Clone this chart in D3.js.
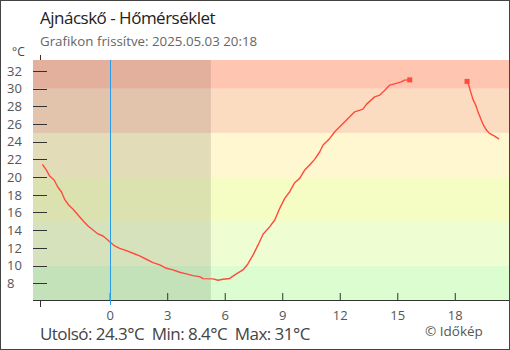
<!DOCTYPE html>
<html><head><meta charset="utf-8">
<script src="https://cdn.jsdelivr.net/npm/d3@7"></script>
<style>
html,body{margin:0;padding:0;background:#fff;}
svg{display:block;font-family:"Open Sans",sans-serif;}
</style></head>
<body>
<svg id="c" width="510" height="350"></svg>
<script>
// ---- data ----
const title = "Ajnácskő - Hőmérséklet";
const subtitle = "Grafikon frissítve: 2025.05.03 20:18";
const footer = "Utolsó: 24.3°C  Min: 8.4°C  Max: 31°C";
const credit = "© Időkép";
const unit = "°C";
const xDomain = [-4, 21];
const yDomain = [6.1, 33.25];
const xTickValues = [0, 3, 6, 9, 12, 15, 18];
const yTickValues = [8, 10, 12, 14, 16, 18, 20, 22, 24, 26, 28, 30, 32];
const bandLimits = [6.1, 10, 15, 20, 25, 30, 33.25];
const bandColors = ["#dcfdcf", "#effdd3", "#f5fdc5", "#fef7cf", "#fcdcc0", "#fec5b0"];
const nightSpan = [-4, 5.28];
const nowHour = 0;
const hours = [-3.51,-3.30,-3.13,-2.90,-2.70,-2.52,-2.35,-2.14,-1.91,-1.65,-1.39,-1.13,-0.87,-0.61,-0.35,-0.14,0,0.26,0.52,0.87,1.22,1.56,1.91,2.26,2.61,2.96,3.30,3.65,4.00,4.34,4.69,4.87,5.39,5.65,5.91,6.26,6.61,6.95,7.20,7.48,7.74,8.00,8.35,8.61,8.87,9.13,9.39,9.65,9.91,10.17,10.43,10.69,10.96,11.13,11.48,11.74,12.00,12.26,12.52,12.78,13.21,13.39,13.82,14.08,14.35,14.61,14.95,15.21,15.38,15.65,null,18.64,18.73,18.83,18.95,19.09,19.21,19.35,19.47,19.65,19.81,20.08,20.31];
const temps = [21.45,20.80,20.12,19.67,18.85,18.35,17.49,16.85,16.36,15.72,15.07,14.47,14.02,13.57,13.34,12.97,12.70,12.21,11.95,11.68,11.39,11.08,10.71,10.33,10.07,9.69,9.50,9.24,9.05,8.86,8.75,8.52,8.49,8.34,8.45,8.54,9.05,9.50,10.15,11.20,12.33,13.54,14.40,15.15,16.47,17.60,18.35,19.37,19.86,20.80,21.37,22.01,22.87,23.63,24.38,25.13,25.69,26.26,26.82,27.39,27.69,28.23,29.08,29.27,29.84,30.41,30.60,30.78,30.97,31.0,null,30.83,30.4,29.65,28.79,28.15,27.39,26.64,26.0,25.32,24.95,24.64,24.3];

// ---- layout ----
const W = 510, H = 350;
const plotL = 33, plotR = 509, plotT = 60, plotB = 300;
const axisX = 40;
const svg = d3.select("#c");

const x = d3.scaleLinear().domain(xDomain).range([33, 512.3]);
const y = d3.scaleLinear().domain(yDomain).range([plotB, plotT]);

svg.append("defs").append("clipPath").attr("id", "clip")
  .append("rect").attr("x", plotL).attr("y", plotT).attr("width", plotR - plotL).attr("height", plotB - plotT);

const plot = svg.append("g").attr("clip-path", "url(#clip)");

// bands
plot.selectAll("rect.band").data(bandColors).join("rect")
  .attr("class", "band")
  .attr("x", plotL).attr("width", plotR - plotL)
  .attr("y", (d, i) => y(bandLimits[i + 1]))
  .attr("height", (d, i) => y(bandLimits[i]) - y(bandLimits[i + 1]))
  .attr("fill", d => d);

// night overlay
plot.append("rect")
  .attr("x", x(nightSpan[0])).attr("width", x(nightSpan[1]) - x(nightSpan[0]))
  .attr("y", plotT).attr("height", plotB - plotT)
  .attr("fill", "rgba(0,0,0,0.105)");

// data line
const pts = hours.map((h, i) => ({h, v: temps[i]}));
const line = d3.line().defined(d => d.v != null && d.h != null)
  .x(d => x(d.h)).y(d => y(d.v));
plot.append("path").datum(pts)
  .attr("d", line).attr("fill", "none")
  .attr("stroke", "#ff4a3d").attr("stroke-width", 1.4).attr("stroke-linejoin", "round");

// markers at segment ends bordering gap
const marks = pts.filter((d, i) => d.v != null && ((i > 0 && pts[i - 1].v == null) || (i < pts.length - 1 && pts[i + 1].v == null)));
plot.selectAll("rect.mk").data(marks).join("rect")
  .attr("class", "mk")
  .attr("x", d => x(d.h) - 2.5).attr("y", d => y(d.v) - 2.5)
  .attr("width", 5).attr("height", 5).attr("fill", "#ff4a3d");

// x axis
const xAxis = d3.axisBottom(x).tickValues(xTickValues).tickSizeInner(-7).tickSizeOuter(0).tickPadding(11);
const gx = svg.append("g").attr("transform", `translate(0,${plotB})`).call(xAxis);
gx.select(".domain").remove();
gx.selectAll(".tick line").attr("stroke", "#333");
gx.selectAll(".tick text").attr("fill", "#555").style("font-size", "13px").style("font-family", "Open Sans");
svg.append("line").attr("x1", plotL).attr("x2", plotR).attr("y1", plotB + 0.5).attr("y2", plotB + 0.5).attr("stroke", "#333");
svg.append("line").attr("x1", axisX + 0.5).attr("x2", axisX + 0.5).attr("y1", plotB).attr("y2", plotB + 7).attr("stroke", "#333");
svg.append("line").attr("x1", axisX + 0.5).attr("x2", axisX + 0.5).attr("y1", plotT - 5).attr("y2", plotT).attr("stroke", "#333");

// now line (extends slightly below axis)
svg.append("line")
  .attr("x1", Math.round(x(nowHour)) + 0.5).attr("x2", Math.round(x(nowHour)) + 0.5)
  .attr("y1", plotT).attr("y2", plotB + 5)
  .attr("stroke", "#2a9be6").attr("stroke-width", 1);

// y axis
const gy = svg.append("g");
gy.selectAll("line").data(yTickValues).join("line")
  .attr("x1", axisX - 7).attr("x2", axisX + 7)
  .attr("y1", d => Math.round(y(d)) + 0.5).attr("y2", d => Math.round(y(d)) + 0.5)
  .attr("stroke", "#333");
gy.selectAll("text").data(yTickValues).join("text")
  .attr("x", 7).attr("y", d => y(d) + 4.7)
  .attr("fill", "#555").style("font-size", "13px")
  .text(d => d);

svg.append("text").attr("x", 12).attr("y", 56).attr("fill", "#444").style("font-size", "12px").text(unit);

// titles
svg.append("text").attr("x", 40).attr("y", 24).attr("fill", "#222").style("font-size", "17px")
  .style("letter-spacing", "-0.5px").text(title);
svg.append("text").attr("x", 40).attr("y", 45.5).attr("fill", "#666").style("font-size", "13.3px").text(subtitle);
svg.append("text").attr("x", 40).attr("y", 340).attr("fill", "#444").style("font-size", "17px")
  .style("letter-spacing", "-0.55px")
  .style("white-space", "pre").attr("xml:space", "preserve").text(footer);
svg.append("text").attr("x", 425).attr("y", 336).attr("fill", "#555").style("font-size", "13.5px").text(credit);

// frame
svg.append("rect").attr("x", 0.5).attr("y", 0.5).attr("width", W - 1).attr("height", H - 1)
  .attr("fill", "none").attr("stroke", "#444");
</script>
</body></html>
